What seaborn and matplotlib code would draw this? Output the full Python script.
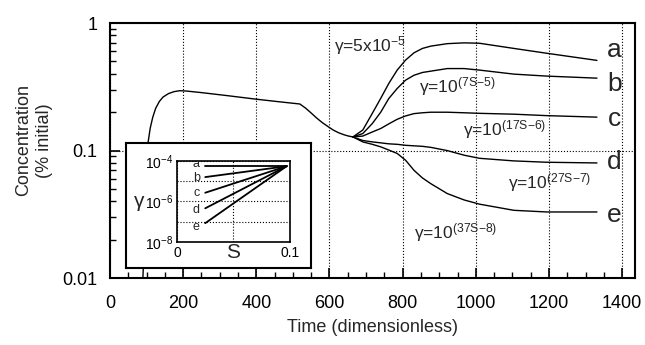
import pandas as pd
import matplotlib
matplotlib.use("Agg")
import matplotlib.pyplot as plt
from matplotlib.ticker import FixedLocator, NullFormatter, MultipleLocator
import seaborn as sns

# Shared part of the curve (before the branches split)
t_common = [90, 100, 104, 110, 117, 125, 135, 145, 160, 175, 191, 210, 250, 320, 400, 460, 519,
            535, 550, 565, 580, 595, 610, 625, 640, 652, 664]
c_common = [0.01, 0.06, 0.115, 0.15, 0.183, 0.215, 0.243, 0.263, 0.28, 0.29, 0.295, 0.293, 0.285,
            0.27, 0.253, 0.242, 0.232, 0.215, 0.197, 0.18, 0.166, 0.155, 0.145, 0.138, 0.133,
            0.13, 0.128]

# Branches a-e
t_branch = [664, 691, 717, 740, 762, 785, 808, 831, 854, 877, 922, 968, 1010, 1104, 1194, 1331]
c_a = [0.128, 0.145, 0.196, 0.257, 0.336, 0.428, 0.513, 0.585, 0.633, 0.66, 0.69, 0.70, 0.695,
       0.633, 0.58, 0.51]
c_b = [0.128, 0.136, 0.163, 0.2, 0.256, 0.307, 0.357, 0.39, 0.41, 0.42, 0.44, 0.44, 0.428,
       0.398, 0.384, 0.37]
c_c = [0.128, 0.13, 0.14, 0.149, 0.162, 0.176, 0.187, 0.195, 0.198, 0.2, 0.2, 0.198, 0.196,
       0.193, 0.188, 0.183]
c_d = [0.128, 0.12, 0.117, 0.115, 0.113, 0.112, 0.11, 0.109, 0.108, 0.106, 0.1, 0.092, 0.087,
       0.083, 0.081, 0.08]
c_e = [0.128, 0.117, 0.112, 0.107, 0.101, 0.095, 0.084, 0.070, 0.061, 0.055, 0.046, 0.041,
       0.038, 0.034, 0.033, 0.033]

branch_names = ["a", "b", "c", "d", "e"]
branch_labels = [r"γ=5x10$^{-5}$", r"γ=10$^{(7S{-}5)}$", r"γ=10$^{(17S{-}6)}$",
                 r"γ=10$^{(27S{-}7)}$", r"γ=10$^{(37S{-}8)}$"]

# Inset: gamma vs S
s_inset = [0.025, 0.097]
g_a = [5.5e-5, 5.5e-5]
g_b = [1.6e-5, 5.5e-5]
g_c = [2.7e-6, 5.5e-5]
g_d = [4.6e-7, 5.5e-5]
g_e = [8.5e-8, 5.5e-5]

sns.set_style("white")
plt.rcParams["font.family"] = ["Liberation Sans", "DejaVu Sans"]
plt.rcParams["mathtext.fontset"] = "custom"
plt.rcParams["mathtext.rm"] = "Liberation Sans"
plt.rcParams["mathtext.it"] = "Liberation Sans"
plt.rcParams["mathtext.default"] = "regular"

# long-form tables
rows = [("common", t, c) for t, c in zip(t_common, c_common)]
for name, vals in zip(branch_names, [c_a, c_b, c_c, c_d, c_e]):
    rows += [(name, t, c) for t, c in zip(t_branch, vals)]
df = pd.DataFrame(rows, columns=["curve", "Time", "Concentration"])

inset_rows = []
for name, vals in zip(branch_names, [g_a, g_b, g_c, g_d, g_e]):
    inset_rows += [(name, s, g) for s, g in zip(s_inset, vals)]
df_in = pd.DataFrame(inset_rows, columns=["curve", "S", "gamma"])

black = {k: "black" for k in ["common"] + branch_names}

fig = plt.figure(figsize=(6.45, 3.45), dpi=100)
ax = fig.add_axes([0.1705, 0.194, 0.814, 0.739])
sns.lineplot(data=df, x="Time", y="Concentration", hue="curve", palette=black,
             legend=False, lw=1.0, ax=ax, sort=False)
ax.set_yscale("log")
ax.set_xlim(0, 1435)
ax.set_ylim(0.01, 1)
ax.xaxis.set_major_locator(MultipleLocator(200))
ax.xaxis.set_minor_locator(MultipleLocator(50))
ax.yaxis.set_major_locator(FixedLocator([0.01, 0.1, 1]))
ax.set_yticklabels(["0.01", "0.1", "1"])
ax.yaxis.set_minor_formatter(NullFormatter())
ax.tick_params(which="both", direction="in", colors="black", labelsize=13,
               bottom=True, left=True, top=False, right=False)
ax.tick_params(which="major", length=7, width=1.2)
ax.tick_params(which="minor", length=4, width=1.0)
ax.tick_params(axis="x", which="major", pad=12)
ax.tick_params(axis="y", which="major", pad=9)
ax.grid(True, which="major", ls=":", color="black", lw=0.8)
for sp in ax.spines.values():
    sp.set_linewidth(1.5)
    sp.set_color("black")
ax.set_xlabel("Time (dimensionless)", fontsize=13, labelpad=5)
ax.set_ylabel("Concentration\n(% initial)", fontsize=13, linespacing=1.3)
ax.yaxis.label.set_va("center")
ax.yaxis.set_label_coords(-0.145, 0.54)

# curve annotations
label_pos = [(611, 0.67), (844, 0.32), (964, 0.145), (1088, 0.0566), (830, 0.0229)]
for txt, (x, y) in zip(branch_labels, label_pos):
    ax.text(x, y, txt, fontsize=12.5, ha="left", va="center")
letter_y = [0.62, 0.335, 0.178, 0.082, 0.031]
for name, y in zip(branch_names, letter_y):
    ax.text(1378, y, name, fontsize=19, ha="center", va="center")

# inset frame
frame = fig.add_axes([0.1953, 0.2232, 0.2868, 0.3623])
frame.set_xticks([])
frame.set_yticks([])
frame.set_facecolor("white")
for sp in frame.spines.values():
    sp.set_linewidth(1.5)
    sp.set_color("black")

ins = fig.add_axes([0.2744, 0.2986, 0.1752, 0.2348])
sns.lineplot(data=df_in, x="S", y="gamma", hue="curve", palette=black,
             legend=False, lw=1.3, ax=ins)
ins.set_yscale("log")
ins.set_xlim(0, 0.1)
ins.set_ylim(1e-8, 1e-4)
ins.yaxis.set_major_locator(FixedLocator([1e-8, 1e-7, 1e-6, 1e-5, 1e-4]))
ins.set_yticklabels([r"10$^{-8}$", "", r"10$^{-6}$", "", r"10$^{-4}$"])
ins.yaxis.set_minor_locator(FixedLocator([]))
ins.set_xticks([0, 0.05, 0.1])
ins.set_xticklabels(["0", "", "0.1"])
ins.tick_params(which="both", length=0, labelsize=10, pad=3, colors="black")
ins.grid(True, ls=":", color="black", lw=0.8)
for sp in ins.spines.values():
    sp.set_linewidth(1.2)
    sp.set_color("black")
ins.set_xlabel("S", fontsize=15)
ins.xaxis.set_label_coords(0.5, -0.01)
ins.set_ylabel("γ", fontsize=15, rotation=0, labelpad=4, va="center")
inset_letter_y = [7.0e-5, 1.5e-5, 2.5e-6, 4.0e-7, 5.5e-8]
for name, y in zip(branch_names, inset_letter_y):
    ins.text(0.017, y, name, fontsize=9, ha="center", va="center")

fig.savefig("out.png", dpi=100)
